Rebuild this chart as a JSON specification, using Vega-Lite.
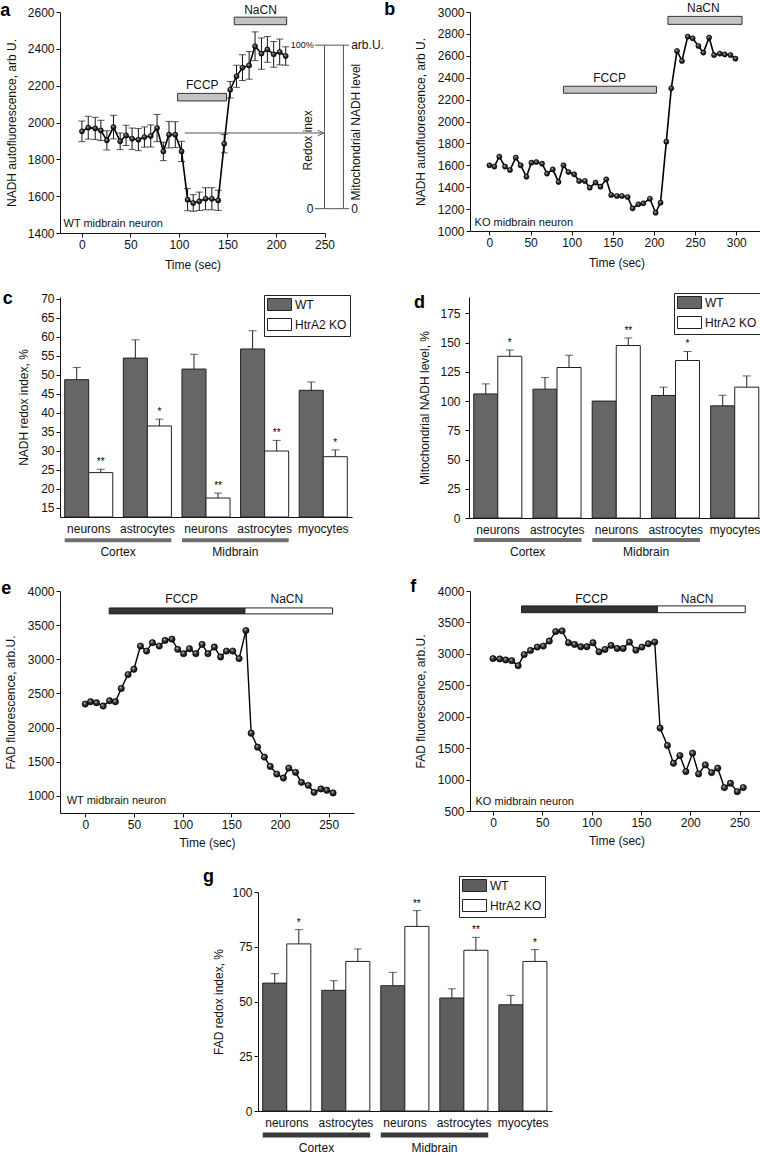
{
"$schema":"https://vega.github.io/schema/vega-lite/v6.json",
"padding":{"left":0,"top":0,"right":0,"bottom":0},
"autosize":{"type":"pad"},
"background":"white",
"spacing":19,
"resolve":{"scale":{"color":"independent"},"legend":{"color":"independent"}},
"datasets":{
"a_series":[{"t":0,"v":1952,"err":56},{"t":6.5,"v":1972,"err":62},{"t":13.7,"v":1968,"err":60},{"t":19.5,"v":1957,"err":55},{"t":25.7,"v":1903,"err":52},{"t":32.5,"v":1975,"err":64},{"t":39.4,"v":1898,"err":45},{"t":45.5,"v":1930,"err":55},{"t":51.7,"v":1912,"err":58},{"t":58.2,"v":1907,"err":60},{"t":64.4,"v":1921,"err":55},{"t":70.9,"v":1927,"err":60},{"t":77.4,"v":1970,"err":74},{"t":83.9,"v":1843,"err":50},{"t":89.7,"v":1934,"err":72},{"t":96.2,"v":1934,"err":70},{"t":102.7,"v":1843,"err":55},{"t":108.9,"v":1581,"err":60},{"t":114.7,"v":1563,"err":45},{"t":120.9,"v":1572,"err":50},{"t":127.4,"v":1586,"err":60},{"t":133.9,"v":1586,"err":60},{"t":140.4,"v":1577,"err":55},{"t":146.6,"v":1885,"err":50},{"t":152.8,"v":2178,"err":45},{"t":159.3,"v":2251,"err":60},{"t":165.4,"v":2298,"err":70},{"t":172.3,"v":2310,"err":75},{"t":178.4,"v":2414,"err":78},{"t":185,"v":2374,"err":85},{"t":191.1,"v":2397,"err":70},{"t":197.6,"v":2370,"err":70},{"t":203.8,"v":2383,"err":70},{"t":210,"v":2361,"err":50}],
"a_bars":[{"label":"FCCP","t":98.6,"t2":149,"v":2117,"v2":2158},{"label":"NaCN","t":157,"t2":211,"v":2531,"v2":2572}],
"a_labels":[{"label":"FCCP","t":124,"v":2202},{"label":"NaCN","t":184,"v":2609}],
"a_sample":[{"label":"WT midbrain neuron","t":-19,"v":1451}],
"a_segments":[{"t":106,"t2":248,"v":1943,"v2":1943},{"t":250,"t2":250,"v":1532,"v2":2420},{"t":269.5,"t2":269.5,"v":1532,"v2":2420},{"t":240,"t2":275.5,"v":2420,"v2":2420},{"t":240,"t2":275.5,"v":1532,"v2":1532}],
"a_arrow":[{"t":247,"v":1943}],
"a_pct":[{"label":"100%","t":239,"v":2420}],
"a_zero_left":[{"label":"0","t":238.5,"v":1532}],
"a_right":[{"label":"arb.U.","t":277.5,"v":2420},{"label":"0","t":277.5,"v":1532}],
"a_rot":[{"label":"Redox inex","t":233,"v":1903},{"label":"Mitochondrial NADH level","t":282.5,"v":1948}],
"b_series":[{"t":0,"v":1600},{"t":6,"v":1588},{"t":12,"v":1679},{"t":19,"v":1588},{"t":25,"v":1557},{"t":32,"v":1670},{"t":38,"v":1600},{"t":45,"v":1496},{"t":51,"v":1624},{"t":57,"v":1630},{"t":64,"v":1615},{"t":70,"v":1524},{"t":77,"v":1563},{"t":84,"v":1448},{"t":90,"v":1600},{"t":96,"v":1539},{"t":103,"v":1518},{"t":109,"v":1457},{"t":116,"v":1457},{"t":122,"v":1396},{"t":129,"v":1442},{"t":135,"v":1405},{"t":142,"v":1472},{"t":148,"v":1329},{"t":155,"v":1320},{"t":161,"v":1320},{"t":168,"v":1311},{"t":174,"v":1207},{"t":181,"v":1244},{"t":187,"v":1253},{"t":195,"v":1295},{"t":202,"v":1167},{"t":208,"v":1259},{"t":215,"v":1816},{"t":221,"v":2303},{"t":228,"v":2644},{"t":234,"v":2553},{"t":241,"v":2775},{"t":247,"v":2760},{"t":254,"v":2690},{"t":260,"v":2629},{"t":267,"v":2766},{"t":273,"v":2607},{"t":280,"v":2620},{"t":286,"v":2613},{"t":293,"v":2607},{"t":299,"v":2574}],
"b_bars":[{"label":"FCCP","t":90,"t2":203,"v":2258,"v2":2322},{"label":"NaCN","t":217,"t2":307,"v":2887,"v2":2960}],
"b_labels":[{"label":"FCCP","t":146,"v":2400},{"label":"NaCN","t":260,"v":3040}],
"b_sample":[{"label":"KO midbrain neuron","t":-18,"v":1076}],
"e_series":[{"t":0,"v":2345},{"t":5.5,"v":2379},{"t":11.6,"v":2364},{"t":18.4,"v":2316},{"t":25,"v":2393},{"t":31,"v":2379},{"t":37,"v":2573},{"t":44,"v":2777},{"t":50,"v":2854},{"t":56.7,"v":3194},{"t":63,"v":3121},{"t":69,"v":3243},{"t":76,"v":3194},{"t":82,"v":3277},{"t":89,"v":3295},{"t":95,"v":3146},{"t":101,"v":3083},{"t":107,"v":3155},{"t":113.6,"v":3083},{"t":120,"v":3218},{"t":126,"v":3083},{"t":132.6,"v":3180},{"t":139,"v":3034},{"t":145,"v":3121},{"t":151.5,"v":3121},{"t":158,"v":3010},{"t":165,"v":3421},{"t":170.4,"v":1918},{"t":177,"v":1714},{"t":184,"v":1568},{"t":190,"v":1432},{"t":196.7,"v":1320},{"t":203.5,"v":1262},{"t":209,"v":1408},{"t":216,"v":1345},{"t":222,"v":1199},{"t":229,"v":1155},{"t":235,"v":1053},{"t":242,"v":1102},{"t":248,"v":1083},{"t":254.5,"v":1044}],
"e_bars":[{"label":"FCCP","t":24.6,"t2":164,"v":3665,"v2":3752},{"label":"NaCN","t":164,"t2":254,"v":3665,"v2":3752}],
"e_labels":[{"label":"FCCP","t":99,"v":3883},{"label":"NaCN","t":207,"v":3883}],
"e_sample":[{"label":"WT midbrain neuron","t":-19,"v":930}],
"f_series":[{"t":0,"v":2925},{"t":6.8,"v":2919},{"t":12.9,"v":2903},{"t":19,"v":2892},{"t":25.5,"v":2812},{"t":31.6,"v":2989},{"t":38,"v":3054},{"t":44.9,"v":3108},{"t":51,"v":3124},{"t":57.1,"v":3204},{"t":63.6,"v":3355},{"t":70.1,"v":3366},{"t":76.5,"v":3177},{"t":82.7,"v":3150},{"t":89,"v":3113},{"t":95.2,"v":3113},{"t":101.4,"v":3177},{"t":107.5,"v":3032},{"t":113.6,"v":3070},{"t":119.7,"v":3134},{"t":125.9,"v":3086},{"t":132,"v":3086},{"t":138.4,"v":3188},{"t":144.9,"v":3059},{"t":151,"v":3108},{"t":157.5,"v":3161},{"t":164,"v":3188},{"t":169.4,"v":1819},{"t":176.9,"v":1542},{"t":183,"v":1260},{"t":189.5,"v":1382},{"t":195.6,"v":1127},{"t":202.4,"v":1420},{"t":208.5,"v":1090},{"t":215.3,"v":1234},{"t":221.7,"v":1111},{"t":227.9,"v":1181},{"t":234.7,"v":872},{"t":240.8,"v":941},{"t":247.7,"v":808},{"t":253.8,"v":872}],
"f_bars":[{"label":"FCCP","t":28.9,"t2":166.7,"v":3655,"v2":3763},{"label":"NaCN","t":166.7,"t2":255.8,"v":3655,"v2":3763}],
"f_labels":[{"label":"FCCP","t":100,"v":3880},{"label":"NaCN","t":207,"v":3880}],
"f_sample":[{"label":"KO midbrain neuron","t":-17.7,"v":645}],
"groups":[{"region":"Cortex","first":"Cortex|neurons","last":"Cortex|astrocytes"},{"region":"Midbrain","first":"Midbrain|neurons","last":"Midbrain|astrocytes"}],
"c_bars":[{"cat":"Cortex|neurons","geno":"WT","value":48.7,"upper":51.9,"sig":""},{"cat":"Cortex|neurons","geno":"HtrA2 KO","value":24.2,"upper":25.1,"sig":"**"},{"cat":"Cortex|astrocytes","geno":"WT","value":54.4,"upper":59.2,"sig":""},{"cat":"Cortex|astrocytes","geno":"HtrA2 KO","value":36.5,"upper":38.3,"sig":"*"},{"cat":"Midbrain|neurons","geno":"WT","value":51.5,"upper":55.4,"sig":""},{"cat":"Midbrain|neurons","geno":"HtrA2 KO","value":17.5,"upper":18.8,"sig":"**"},{"cat":"Midbrain|astrocytes","geno":"WT","value":56.8,"upper":61.6,"sig":""},{"cat":"Midbrain|astrocytes","geno":"HtrA2 KO","value":29.9,"upper":32.7,"sig":"**"},{"cat":"Muscle|myocytes","geno":"WT","value":45.9,"upper":48.1,"sig":""},{"cat":"Muscle|myocytes","geno":"HtrA2 KO","value":28.4,"upper":30.2,"sig":"*"}],
"d_bars":[{"cat":"Cortex|neurons","geno":"WT","value":106.1,"upper":114.7,"sig":""},{"cat":"Cortex|neurons","geno":"HtrA2 KO","value":138.3,"upper":143.7,"sig":"*"},{"cat":"Cortex|astrocytes","geno":"WT","value":110.2,"upper":120.1,"sig":""},{"cat":"Cortex|astrocytes","geno":"HtrA2 KO","value":128.7,"upper":139.2,"sig":""},{"cat":"Midbrain|neurons","geno":"WT","value":100,"upper":100,"sig":""},{"cat":"Midbrain|neurons","geno":"HtrA2 KO","value":147.5,"upper":154,"sig":"**"},{"cat":"Midbrain|astrocytes","geno":"WT","value":104.8,"upper":111.9,"sig":""},{"cat":"Midbrain|astrocytes","geno":"HtrA2 KO","value":134.7,"upper":142.4,"sig":"*"},{"cat":"Muscle|myocytes","geno":"WT","value":95.9,"upper":105,"sig":""},{"cat":"Muscle|myocytes","geno":"HtrA2 KO","value":111.9,"upper":121.5,"sig":""}],
"g_bars":[{"cat":"Cortex|neurons","geno":"WT","value":58.4,"upper":62.7,"sig":""},{"cat":"Cortex|neurons","geno":"HtrA2 KO","value":76.3,"upper":82.8,"sig":"*"},{"cat":"Cortex|astrocytes","geno":"WT","value":55.1,"upper":59.5,"sig":""},{"cat":"Cortex|astrocytes","geno":"HtrA2 KO","value":68.3,"upper":74,"sig":""},{"cat":"Midbrain|neurons","geno":"WT","value":57.2,"upper":63.3,"sig":""},{"cat":"Midbrain|neurons","geno":"HtrA2 KO","value":84.3,"upper":91.5,"sig":"**"},{"cat":"Midbrain|astrocytes","geno":"WT","value":51.6,"upper":55.8,"sig":""},{"cat":"Midbrain|astrocytes","geno":"HtrA2 KO","value":73.4,"upper":79.3,"sig":"**"},{"cat":"Muscle|myocytes","geno":"WT","value":48.5,"upper":52.8,"sig":""},{"cat":"Muscle|myocytes","geno":"HtrA2 KO","value":68.3,"upper":73.7,"sig":"*"}]
},
"vconcat":[
{"spacing":0,"resolve":{"scale":{"color":"independent"},"legend":{"color":"independent"}},"hconcat":[
{"width":265,"height":221,"title":{"text":"a","dx":-5,"offset":-16},
"layer":[
{"data":{"name":"a_bars"},"mark":{"type":"rect","fill":"#c4c4c4","stroke":"#333","strokeWidth":1},"encoding":{"x":{"field":"t","type":"quantitative","title":"Time (sec)","scale":{"domain":[-22.6,250.5],"nice":false,"zero":false},"axis":{"values":[0,50,100,150,200,250],"tickCount":100,"titlePadding":9}},"x2":{"field":"t2"},"y":{"field":"v","type":"quantitative","title":"NADH autofluorescence, arb U.","scale":{"domain":[1400,2600],"nice":false,"zero":false},"axis":{"values":[1400,1600,1800,2000,2200,2400,2600],"tickCount":100,"titlePadding":9}},"y2":{"field":"v2"}}},
{"data":{"name":"a_labels"},"mark":{"type":"text","fontSize":12,"baseline":"middle"},"encoding":{"x":{"field":"t","type":"quantitative","title":"Time (sec)"},"y":{"field":"v","type":"quantitative","title":"NADH autofluorescence, arb U."},"text":{"field":"label"}}},
{"data":{"name":"a_segments"},"mark":{"type":"rule","color":"#555","strokeWidth":1},"encoding":{"x":{"field":"t","type":"quantitative","title":"Time (sec)"},"x2":{"field":"t2"},"y":{"field":"v","type":"quantitative","title":"NADH autofluorescence, arb U."},"y2":{"field":"v2"}}},
{"data":{"name":"a_arrow"},"mark":{"type":"point","shape":"M-1,-0.7L0.6,0L-1,0.7","filled":false,"color":"#555","size":60,"strokeWidth":1,"opacity":1},"encoding":{"x":{"field":"t","type":"quantitative","title":"Time (sec)"},"y":{"field":"v","type":"quantitative","title":"NADH autofluorescence, arb U."}}},
{"data":{"name":"a_pct"},"mark":{"type":"text","fontSize":9,"align":"right","baseline":"middle"},"encoding":{"x":{"field":"t","type":"quantitative","title":"Time (sec)"},"y":{"field":"v","type":"quantitative","title":"NADH autofluorescence, arb U."},"text":{"field":"label"}}},
{"data":{"name":"a_zero_left"},"mark":{"type":"text","fontSize":12,"align":"right","baseline":"middle"},"encoding":{"x":{"field":"t","type":"quantitative","title":"Time (sec)"},"y":{"field":"v","type":"quantitative","title":"NADH autofluorescence, arb U."},"text":{"field":"label"}}},
{"data":{"name":"a_right"},"mark":{"type":"text","fontSize":12,"align":"left","baseline":"middle"},"encoding":{"x":{"field":"t","type":"quantitative","title":"Time (sec)"},"y":{"field":"v","type":"quantitative","title":"NADH autofluorescence, arb U."},"text":{"field":"label"}}},
{"data":{"name":"a_rot"},"mark":{"type":"text","fontSize":12,"angle":270,"align":"center","baseline":"middle"},"encoding":{"x":{"field":"t","type":"quantitative","title":"Time (sec)"},"y":{"field":"v","type":"quantitative","title":"NADH autofluorescence, arb U."},"text":{"field":"label"}}},
{"data":{"name":"a_sample"},"mark":{"type":"text","fontSize":11,"align":"left","baseline":"middle"},"encoding":{"x":{"field":"t","type":"quantitative","title":"Time (sec)"},"y":{"field":"v","type":"quantitative","title":"NADH autofluorescence, arb U."},"text":{"field":"label"}}},
{"data":{"name":"a_series"},"mark":{"type":"errorbar","ticks":{"size":7},"thickness":1,"color":"#111"},"encoding":{"x":{"field":"t","type":"quantitative","title":"Time (sec)"},"y":{"field":"v","type":"quantitative","title":"NADH autofluorescence, arb U."},"yError":{"field":"err"}}},
{"data":{"name":"a_series"},"mark":{"type":"line","color":"#000","strokeWidth":1.6},"encoding":{"x":{"field":"t","type":"quantitative","title":"Time (sec)"},"y":{"field":"v","type":"quantitative","title":"NADH autofluorescence, arb U."}}},
{"data":{"name":"a_series"},"mark":{"type":"point","shape":"circle","filled":true,"size":26,"fill":{"gradient":"radial","x1":0.35,"y1":0.3,"r1":0,"x2":0.5,"y2":0.5,"r2":0.55,"stops":[{"offset":0,"color":"#d8d8d8"},{"offset":0.45,"color":"#3a3a3a"},{"offset":1,"color":"#000000"}]},"stroke":"#000","strokeWidth":0.6,"opacity":1},"encoding":{"x":{"field":"t","type":"quantitative","title":"Time (sec)"},"y":{"field":"v","type":"quantitative","title":"NADH autofluorescence, arb U."}}}
]},
{"width":293,"height":219,"title":{"text":"b","dx":-30,"offset":-17},
"layer":[
{"data":{"name":"b_bars"},"mark":{"type":"rect","fill":"#c4c4c4","stroke":"#333","strokeWidth":1},"encoding":{"x":{"field":"t","type":"quantitative","title":"Time (sec)","scale":{"domain":[-23.6,332.5],"nice":false,"zero":false},"axis":{"values":[0,50,100,150,200,250,300],"tickCount":100,"titlePadding":9}},"x2":{"field":"t2"},"y":{"field":"v","type":"quantitative","title":"NADH autofluorescence, arb U.","scale":{"domain":[1000,3000],"nice":false,"zero":false},"axis":{"values":[1000,1200,1400,1600,1800,2000,2200,2400,2600,2800,3000],"tickCount":100,"titlePadding":10}},"y2":{"field":"v2"}}},
{"data":{"name":"b_labels"},"mark":{"type":"text","fontSize":12,"baseline":"middle"},"encoding":{"x":{"field":"t","type":"quantitative","title":"Time (sec)"},"y":{"field":"v","type":"quantitative","title":"NADH autofluorescence, arb U."},"text":{"field":"label"}}},
{"data":{"name":"b_sample"},"mark":{"type":"text","fontSize":11,"align":"left","baseline":"middle"},"encoding":{"x":{"field":"t","type":"quantitative","title":"Time (sec)"},"y":{"field":"v","type":"quantitative","title":"NADH autofluorescence, arb U."},"text":{"field":"label"}}},
{"data":{"name":"b_series"},"mark":{"type":"line","color":"#000","strokeWidth":1.6},"encoding":{"x":{"field":"t","type":"quantitative","title":"Time (sec)"},"y":{"field":"v","type":"quantitative","title":"NADH autofluorescence, arb U."}}},
{"data":{"name":"b_series"},"mark":{"type":"point","shape":"circle","filled":true,"size":26,"fill":{"gradient":"radial","x1":0.35,"y1":0.3,"r1":0,"x2":0.5,"y2":0.5,"r2":0.55,"stops":[{"offset":0,"color":"#d8d8d8"},{"offset":0.45,"color":"#3a3a3a"},{"offset":1,"color":"#000000"}]},"stroke":"#000","strokeWidth":0.6,"opacity":1},"encoding":{"x":{"field":"t","type":"quantitative","title":"Time (sec)"},"y":{"field":"v","type":"quantitative","title":"NADH autofluorescence, arb U."}}}
]}
]},
{"spacing":61,"resolve":{"scale":{"color":"independent"},"legend":{"color":"independent"}},"hconcat":[
{"width":292,"height":220,"title":{"text":"c","dx":-15,"offset":-15},
"layer":[
{"data":{"name":"c_bars"},"mark":{"type":"bar","stroke":"#222","strokeWidth":1},"encoding":{"x":{"field":"cat","type":"nominal","title":null,"scale":{"domain":["Cortex|neurons","Cortex|astrocytes","Midbrain|neurons","Midbrain|astrocytes","Muscle|myocytes"],"paddingInner":0.18,"paddingOuter":0.08},"axis":{"labelExpr":"split(datum.value,'|')[1]","labelAngle":0,"ticks":false,"labelPadding":6}},"xOffset":{"field":"geno","type":"nominal","scale":{"domain":["WT","HtrA2 KO"],"paddingInner":0,"paddingOuter":0}},"y":{"field":"value","type":"quantitative","title":"NADH redox index, %","scale":{"domain":[12.5,70.5],"nice":false,"zero":false},"axis":{"values":[15,20,25,30,35,40,45,50,55,60,65,70],"tickCount":100,"titlePadding":10}},"y2":{"datum":12.5},"color":{"field":"geno","type":"nominal","scale":{"domain":["WT","HtrA2 KO"],"range":["#666666","#ffffff"]},"legend":{"orient":"none","legendX":204,"legendY":-2}}}},
{"data":{"name":"c_bars"},"transform":[{"filter":"datum.upper > datum.value"}],"mark":{"type":"rule","color":"#222","strokeWidth":1},"encoding":{"x":{"field":"cat","type":"nominal","title":null},"xOffset":{"field":"geno","type":"nominal"},"y":{"field":"value","type":"quantitative","title":"NADH redox index, %"},"y2":{"field":"upper"}}},
{"data":{"name":"c_bars"},"transform":[{"filter":"datum.upper > datum.value"}],"mark":{"type":"tick","orient":"horizontal","color":"#222","size":8,"thickness":1},"encoding":{"x":{"field":"cat","type":"nominal","title":null},"xOffset":{"field":"geno","type":"nominal"},"y":{"field":"upper","type":"quantitative","title":"NADH redox index, %"}}},
{"data":{"name":"c_bars"},"mark":{"type":"text","fontSize":10,"baseline":"bottom","dy":-2,"color":"#000"},"encoding":{"x":{"field":"cat","type":"nominal","title":null},"xOffset":{"field":"geno","type":"nominal"},"y":{"field":"upper","type":"quantitative","title":"NADH redox index, %"},"text":{"field":"sig"}}},
{"data":{"name":"groups"},"mark":{"type":"rule","color":"#707070","strokeWidth":4},"encoding":{"x":{"field":"first","type":"nominal","title":null,"bandPosition":0},"x2":{"field":"last","bandPosition":1},"y":{"datum":6.4}}},
{"data":{"name":"groups"},"mark":{"type":"text","fontSize":12,"baseline":"middle"},"encoding":{"x":{"field":"first","type":"nominal","title":null,"bandPosition":1.11},"y":{"datum":3.3},"text":{"field":"region"}}}
]},
{"width":295,"height":221,"title":{"text":"d","dx":-5,"offset":-19},
"layer":[
{"data":{"name":"d_bars"},"mark":{"type":"bar","stroke":"#222","strokeWidth":1},"encoding":{"x":{"field":"cat","type":"nominal","title":null,"scale":{"domain":["Cortex|neurons","Cortex|astrocytes","Midbrain|neurons","Midbrain|astrocytes","Muscle|myocytes"],"paddingInner":0.18,"paddingOuter":0.08},"axis":{"labelExpr":"split(datum.value,'|')[1]","labelAngle":0,"ticks":false,"labelPadding":6}},"xOffset":{"field":"geno","type":"nominal","scale":{"domain":["WT","HtrA2 KO"],"paddingInner":0,"paddingOuter":0}},"y":{"field":"value","type":"quantitative","title":"Mitochondrial NADH level, %","scale":{"domain":[0,189],"nice":false,"zero":false},"axis":{"values":[0,25,50,75,100,125,150,175],"tickCount":100,"titlePadding":8,"labelPadding":5}},"color":{"field":"geno","type":"nominal","scale":{"domain":["WT","HtrA2 KO"],"range":["#666666","#ffffff"]},"legend":{"orient":"none","legendX":205,"legendY":-4}}}},
{"data":{"name":"d_bars"},"transform":[{"filter":"datum.upper > datum.value"}],"mark":{"type":"rule","color":"#222","strokeWidth":1},"encoding":{"x":{"field":"cat","type":"nominal","title":null},"xOffset":{"field":"geno","type":"nominal"},"y":{"field":"value","type":"quantitative","title":"Mitochondrial NADH level, %"},"y2":{"field":"upper"}}},
{"data":{"name":"d_bars"},"transform":[{"filter":"datum.upper > datum.value"}],"mark":{"type":"tick","orient":"horizontal","color":"#222","size":8,"thickness":1},"encoding":{"x":{"field":"cat","type":"nominal","title":null},"xOffset":{"field":"geno","type":"nominal"},"y":{"field":"upper","type":"quantitative","title":"Mitochondrial NADH level, %"}}},
{"data":{"name":"d_bars"},"mark":{"type":"text","fontSize":10,"baseline":"bottom","dy":-2,"color":"#000"},"encoding":{"x":{"field":"cat","type":"nominal","title":null},"xOffset":{"field":"geno","type":"nominal"},"y":{"field":"upper","type":"quantitative","title":"Mitochondrial NADH level, %"},"text":{"field":"sig"}}},
{"data":{"name":"groups"},"mark":{"type":"rule","color":"#707070","strokeWidth":4},"encoding":{"x":{"field":"first","type":"nominal","title":null,"bandPosition":0},"x2":{"field":"last","bandPosition":1},"y":{"datum":-18.8}}},
{"data":{"name":"groups"},"mark":{"type":"text","fontSize":12,"baseline":"middle"},"encoding":{"x":{"field":"first","type":"nominal","title":null,"bandPosition":1.11},"y":{"datum":-29.1},"text":{"field":"region"}}}
]}
]},
{"spacing":56,"resolve":{"scale":{"color":"independent"},"legend":{"color":"independent"}},"hconcat":[
{"width":294,"height":222,"title":{"text":"e","dx":-3,"offset":-13},
"layer":[
{"data":{"name":"e_bars"},"mark":{"type":"rect","stroke":"#222","strokeWidth":1},"encoding":{"x":{"field":"t","type":"quantitative","title":"Time (sec)","scale":{"domain":[-25.9,276],"nice":false,"zero":false},"axis":{"values":[0,50,100,150,200,250],"tickCount":100,"titlePadding":7}},"x2":{"field":"t2"},"y":{"field":"v","type":"quantitative","title":"FAD fluorescence, arb.U.","scale":{"domain":[750,4000],"nice":false,"zero":false},"axis":{"values":[1000,1500,2000,2500,3000,3500,4000],"tickCount":100,"titlePadding":10}},"y2":{"field":"v2"},"color":{"field":"label","type":"nominal","scale":{"domain":["FCCP","NaCN"],"range":["#333333","#ffffff"]},"legend":null}}},
{"data":{"name":"e_labels"},"mark":{"type":"text","fontSize":12,"baseline":"middle"},"encoding":{"x":{"field":"t","type":"quantitative","title":"Time (sec)"},"y":{"field":"v","type":"quantitative","title":"FAD fluorescence, arb.U."},"text":{"field":"label"}}},
{"data":{"name":"e_sample"},"mark":{"type":"text","fontSize":11,"align":"left","baseline":"middle"},"encoding":{"x":{"field":"t","type":"quantitative","title":"Time (sec)"},"y":{"field":"v","type":"quantitative","title":"FAD fluorescence, arb.U."},"text":{"field":"label"}}},
{"data":{"name":"e_series"},"mark":{"type":"line","color":"#000","strokeWidth":1.4},"encoding":{"x":{"field":"t","type":"quantitative","title":"Time (sec)"},"y":{"field":"v","type":"quantitative","title":"FAD fluorescence, arb.U."}}},
{"data":{"name":"e_series"},"mark":{"type":"point","shape":"circle","filled":true,"size":40,"fill":{"gradient":"radial","x1":0.35,"y1":0.3,"r1":0,"x2":0.5,"y2":0.5,"r2":0.55,"stops":[{"offset":0,"color":"#d8d8d8"},{"offset":0.45,"color":"#3a3a3a"},{"offset":1,"color":"#000000"}]},"stroke":"#000","strokeWidth":0.6,"opacity":1},"encoding":{"x":{"field":"t","type":"quantitative","title":"Time (sec)"},"y":{"field":"v","type":"quantitative","title":"FAD fluorescence, arb.U."}}}
]},
{"width":293,"height":220,"title":{"text":"f","dx":-4,"offset":-11},
"layer":[
{"data":{"name":"f_bars"},"mark":{"type":"rect","stroke":"#222","strokeWidth":1},"encoding":{"x":{"field":"t","type":"quantitative","title":"Time (sec)","scale":{"domain":[-23.3,273.8],"nice":false,"zero":false},"axis":{"values":[0,50,100,150,200,250],"tickCount":100,"titlePadding":7}},"x2":{"field":"t2"},"y":{"field":"v","type":"quantitative","title":"FAD fluorescence, arb.U.","scale":{"domain":[500,4000],"nice":false,"zero":false},"axis":{"values":[500,1000,1500,2000,2500,3000,3500,4000],"tickCount":100,"titlePadding":10}},"y2":{"field":"v2"},"color":{"field":"label","type":"nominal","scale":{"domain":["FCCP","NaCN"],"range":["#333333","#ffffff"]},"legend":null}}},
{"data":{"name":"f_labels"},"mark":{"type":"text","fontSize":12,"baseline":"middle"},"encoding":{"x":{"field":"t","type":"quantitative","title":"Time (sec)"},"y":{"field":"v","type":"quantitative","title":"FAD fluorescence, arb.U."},"text":{"field":"label"}}},
{"data":{"name":"f_sample"},"mark":{"type":"text","fontSize":11,"align":"left","baseline":"middle"},"encoding":{"x":{"field":"t","type":"quantitative","title":"Time (sec)"},"y":{"field":"v","type":"quantitative","title":"FAD fluorescence, arb.U."},"text":{"field":"label"}}},
{"data":{"name":"f_series"},"mark":{"type":"line","color":"#000","strokeWidth":1.4},"encoding":{"x":{"field":"t","type":"quantitative","title":"Time (sec)"},"y":{"field":"v","type":"quantitative","title":"FAD fluorescence, arb.U."}}},
{"data":{"name":"f_series"},"mark":{"type":"point","shape":"circle","filled":true,"size":40,"fill":{"gradient":"radial","x1":0.35,"y1":0.3,"r1":0,"x2":0.5,"y2":0.5,"r2":0.55,"stops":[{"offset":0,"color":"#d8d8d8"},{"offset":0.45,"color":"#3a3a3a"},{"offset":1,"color":"#000000"}]},"stroke":"#000","strokeWidth":0.6,"opacity":1},"encoding":{"x":{"field":"t","type":"quantitative","title":"Time (sec)"},"y":{"field":"v","type":"quantitative","title":"FAD fluorescence, arb.U."}}}
]}
]},
{"spacing":12,"resolve":{"scale":{"color":"independent"},"legend":{"color":"independent"}},"hconcat":[
{"width":130,"height":1,"data":{"values":[]},"mark":"point"},
{"width":294,"height":219,"title":{"text":"g","dx":-10,"offset":-10},
"layer":[
{"data":{"name":"g_bars"},"mark":{"type":"bar","stroke":"#222","strokeWidth":1},"encoding":{"x":{"field":"cat","type":"nominal","title":null,"scale":{"domain":["Cortex|neurons","Cortex|astrocytes","Midbrain|neurons","Midbrain|astrocytes","Muscle|myocytes"],"paddingInner":0.18,"paddingOuter":0.08},"axis":{"labelExpr":"split(datum.value,'|')[1]","labelAngle":0,"ticks":false,"labelPadding":6}},"xOffset":{"field":"geno","type":"nominal","scale":{"domain":["WT","HtrA2 KO"],"paddingInner":0,"paddingOuter":0}},"y":{"field":"value","type":"quantitative","title":"FAD redox index, %","scale":{"domain":[0,100],"nice":false,"zero":false},"axis":{"values":[0,25,50,75,100],"tickCount":100,"titlePadding":6}},"color":{"field":"geno","type":"nominal","scale":{"domain":["WT","HtrA2 KO"],"range":["#5e5e5e","#ffffff"]},"legend":{"orient":"none","legendX":201,"legendY":-16}}}},
{"data":{"name":"g_bars"},"transform":[{"filter":"datum.upper > datum.value"}],"mark":{"type":"rule","color":"#222","strokeWidth":1},"encoding":{"x":{"field":"cat","type":"nominal","title":null},"xOffset":{"field":"geno","type":"nominal"},"y":{"field":"value","type":"quantitative","title":"FAD redox index, %"},"y2":{"field":"upper"}}},
{"data":{"name":"g_bars"},"transform":[{"filter":"datum.upper > datum.value"}],"mark":{"type":"tick","orient":"horizontal","color":"#222","size":8,"thickness":1},"encoding":{"x":{"field":"cat","type":"nominal","title":null},"xOffset":{"field":"geno","type":"nominal"},"y":{"field":"upper","type":"quantitative","title":"FAD redox index, %"}}},
{"data":{"name":"g_bars"},"mark":{"type":"text","fontSize":10,"baseline":"bottom","dy":-2,"color":"#000"},"encoding":{"x":{"field":"cat","type":"nominal","title":null},"xOffset":{"field":"geno","type":"nominal"},"y":{"field":"upper","type":"quantitative","title":"FAD redox index, %"},"text":{"field":"sig"}}},
{"data":{"name":"groups"},"mark":{"type":"rule","color":"#3a3a3a","strokeWidth":5},"encoding":{"x":{"field":"first","type":"nominal","title":null,"bandPosition":0},"x2":{"field":"last","bandPosition":1},"y":{"datum":-11}}},
{"data":{"name":"groups"},"mark":{"type":"text","fontSize":12,"baseline":"middle"},"encoding":{"x":{"field":"first","type":"nominal","title":null,"bandPosition":1.11},"y":{"datum":-16.9},"text":{"field":"region"}}}
]}
]}
],
"config":{
"font":"Liberation Sans",
"numberFormat":"d",
"view":{"stroke":null},
"axis":{"grid":false,"domainColor":"#111","tickColor":"#111","labelColor":"#111","titleColor":"#111","labelFontSize":12,"titleFontSize":12,"titleFontWeight":"normal","tickSize":4,"labelPadding":2,"titlePadding":6,"labelFlush":false,"labelOverlap":false,"labelFont":"Liberation Sans","titleFont":"Liberation Sans"},
"text":{"font":"Liberation Sans","color":"#111"},
"title":{"font":"Liberation Sans","fontSize":18,"fontWeight":"bold","anchor":"start","frame":"bounds","color":"#000","baseline":"alphabetic"},
"legend":{"title":null,"symbolType":"M-2,-1H2V1H-2Z","symbolSize":144,"symbolOffset":6,"symbolStrokeColor":"#222","symbolStrokeWidth":1,"labelFontSize":12,"labelColor":"#111","strokeColor":"#222","fillColor":"#ffffff","padding":3,"rowPadding":3,"labelOffset":9}
}
}
